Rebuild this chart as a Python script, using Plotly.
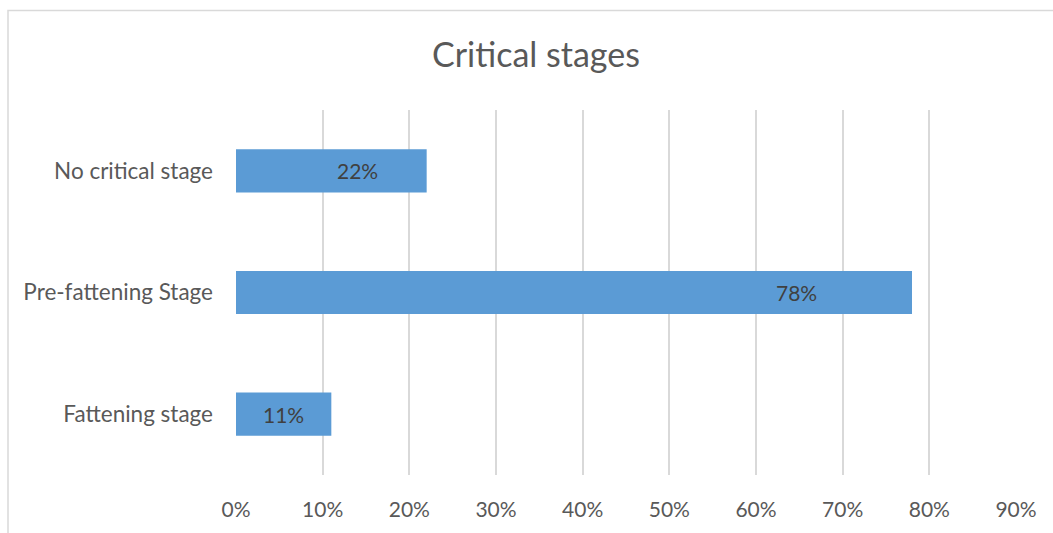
import plotly.graph_objects as go

categories = ["Fattening stage", "Pre-fattening Stage", "No critical stage"]
values = [0.11, 0.78, 0.22]
labels = ["11%", "78%", "22%"]
label_x = [0.055, 0.647, 0.14]
tick_vals = [0, 0.1, 0.2, 0.3, 0.4, 0.5, 0.6, 0.7, 0.8, 0.9]
tick_text = ["0%", "10%", "20%", "30%", "40%", "50%", "60%", "70%", "80%", "90%"]

W, H = 1053, 533
L, R, T, B = 236, 37, 110, 56
pw, ph = W - L - R, H - T - B
FONT = "Lato, Open Sans, sans-serif"

fig = go.Figure()
fig.add_trace(go.Bar(
    y=categories, x=values, orientation="h",
    marker=dict(color="#5B9BD5", line=dict(width=0)),
    hoverinfo="skip",
))

for c, t, lx in zip(categories, labels, label_x):
    fig.add_annotation(x=lx, y=c, text=t, showarrow=False,
                       font=dict(family=FONT, size=21, color="#404040"))

def px_x(p):
    return (p - L) / pw

def px_y(p):
    return (H - B - p) / ph

fig.add_shape(type="rect", xref="paper", yref="paper",
              x0=px_x(8), x1=px_x(1070), y0=px_y(550), y1=px_y(10),
              line=dict(color="#d9d9d9", width=1.5), fillcolor="rgba(0,0,0,0)", layer="below")

fig.update_layout(
    width=W, height=H,
    margin=dict(l=L, r=R, t=T, b=B),
    paper_bgcolor="white", plot_bgcolor="white",
    bargap=0.645,
    showlegend=False,
    title=dict(text="Critical stages", x=536 / W, xref="container", xanchor="center",
               y=1 - 55 / H, yref="container", yanchor="middle",
               font=dict(family=FONT, size=34, color="#595959")),
    xaxis=dict(range=[0, 0.9], tickvals=tick_vals, ticktext=tick_text,
               showgrid=True, gridcolor="#d9d9d9", gridwidth=2, zeroline=False,
               showline=False, ticks="", ticklabelstandoff=20,
               tickfont=dict(family=FONT, size=21, color="#595959"),
               fixedrange=True),
    yaxis=dict(showgrid=False, zeroline=False, showline=False, ticks="",
               ticklabelstandoff=22,
               tickfont=dict(family=FONT, size=22.5, color="#595959"),
               fixedrange=True),
)

fig.write_html("out.html", config={"displayModeBar": False})
